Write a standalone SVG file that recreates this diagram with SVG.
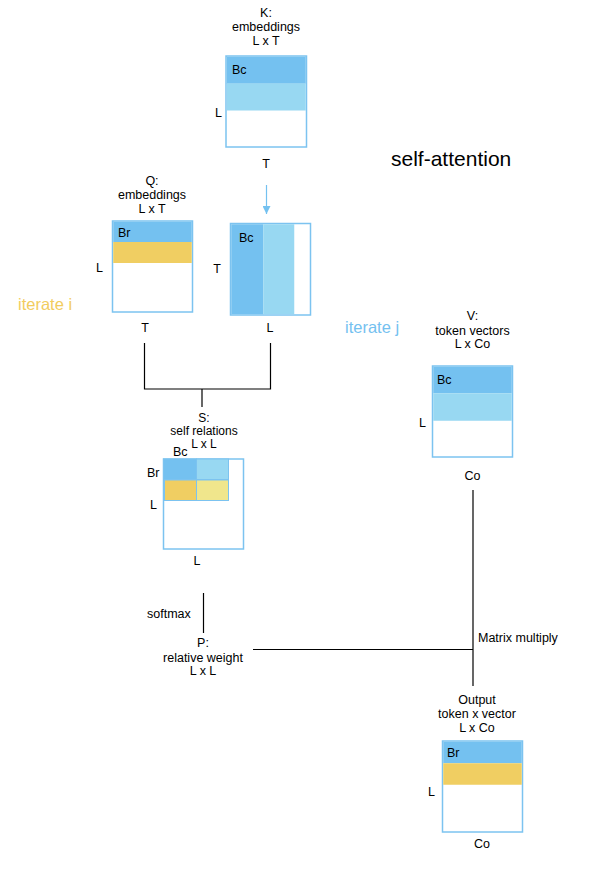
<svg xmlns="http://www.w3.org/2000/svg" width="592" height="882" viewBox="0 0 592 882">
<style>
text{font-family:"Liberation Sans",Arial,sans-serif;font-size:12.5px;fill:#000}
.c{text-anchor:middle}
.sm{font-size:12px}
.box{fill:#fff;stroke:#7cc3f0;stroke-width:1.5}
.dk{fill:#74c1f0}
.lt{fill:#98d8f2}
.yl{fill:#f0ce62}
.ly{fill:#f0e68c}
.tile{stroke:#7cc3f0;stroke-width:1}
.ln{fill:none;stroke:#000;stroke-width:1.2}
.title{font-size:21px}
.iti{font-size:16.5px;fill:#f2cc5e}
.itj{font-size:16.5px;fill:#74c1f0}
</style>
<defs>
<marker id="ah" markerWidth="8" markerHeight="8" refX="8" refY="4" orient="auto" markerUnits="userSpaceOnUse" viewBox="0 0 8 8">
<path d="M0,0 L8,4 L0,8 Z" fill="#74c1f0"/>
</marker>
</defs>
<text x="391" y="166" class="title">self-attention</text>
<text x="18" y="310" class="iti">iterate i</text>
<text x="345" y="333" class="itj">iterate j</text>

<g id="K">
<text x="266" y="17" class="c">K:</text>
<text x="266" y="31" class="c">embeddings</text>
<text x="266" y="45" class="c">L x T</text>
<rect x="226" y="56" width="80.5" height="91" class="box"/>
<rect x="226.75" y="56.75" width="79" height="27" class="dk"/>
<rect x="226.75" y="83.5" width="79" height="27" class="lt"/>
<text x="232" y="74">Bc</text>
<text x="215" y="117">L</text>
<text x="266" y="168" class="c">T</text>
</g>

<g id="Q">
<text x="152" y="185" class="c">Q:</text>
<text x="152" y="199" class="c">embeddings</text>
<text x="152" y="213" class="c">L x T</text>
<rect x="112.5" y="221" width="80" height="91" class="box"/>
<rect x="113.25" y="221.75" width="78.5" height="20.5" class="dk"/>
<rect x="113.25" y="242" width="78.5" height="21" class="yl"/>
<text x="118" y="237">Br</text>
<text x="96" y="272">L</text>
<text x="145" y="332" class="c">T</text>
</g>

<g id="KT">
<rect x="230.5" y="223.5" width="80" height="91.5" class="box"/>
<rect x="231.25" y="224.25" width="32" height="90" class="dk"/>
<rect x="263.25" y="224.25" width="31" height="90" class="lt"/>
<text x="239" y="242">Bc</text>
<text x="217" y="273" class="c">T</text>
<text x="270" y="332" class="c">L</text>
</g>

<g id="S">
<text x="204" y="421.5" class="c sm">S:</text>
<text x="204" y="435" class="c sm">self relations</text>
<text x="204" y="448" class="c sm">L x L</text>
<rect x="163.5" y="459" width="80" height="90" class="box"/>
<rect x="163.5" y="459" width="33" height="20.5" class="dk tile"/>
<rect x="196.5" y="459" width="32" height="20.5" class="lt tile"/>
<rect x="164.5" y="480" width="32" height="20.5" class="yl tile"/>
<rect x="196.5" y="480" width="32" height="20.5" class="ly tile"/>
<text x="173" y="456">Bc</text>
<text x="147" y="477">Br</text>
<text x="150" y="509">L</text>
<text x="197" y="565" class="c">L</text>
</g>

<g id="V">
<text x="472.5" y="320" class="c">V:</text>
<text x="472.5" y="335" class="c">token vectors</text>
<text x="472.5" y="348" class="c">L x Co</text>
<rect x="432.5" y="366" width="80" height="91" class="box"/>
<rect x="433.25" y="366.75" width="78.5" height="26.5" class="dk"/>
<rect x="433.25" y="393.25" width="78.5" height="27.5" class="lt"/>
<text x="437" y="384">Bc</text>
<text x="419" y="427">L</text>
<text x="472.5" y="480" class="c">Co</text>
</g>

<g id="P">
<text x="147" y="618">softmax</text>
<text x="203" y="647" class="c">P:</text>
<text x="203" y="662" class="c">relative weight</text>
<text x="203" y="675" class="c">L x L</text>
</g>

<g id="Output">
<text x="477" y="704" class="c">Output</text>
<text x="477" y="718" class="c">token x vector</text>
<text x="477" y="732" class="c">L x Co</text>
<rect x="442.5" y="741" width="80" height="91" class="box"/>
<rect x="443.25" y="741.75" width="78.5" height="21.5" class="dk"/>
<rect x="443.25" y="763.25" width="78.5" height="21.5" class="yl"/>
<text x="447" y="757">Br</text>
<text x="428" y="796">L</text>
<text x="482" y="848" class="c">Co</text>
</g>

<g id="connectors">
<line x1="266.5" y1="185" x2="266.5" y2="214" stroke="#74c1f0" stroke-width="1.2" marker-end="url(#ah)"/>
<polyline points="144.5,343 144.5,389 270.5,389 270.5,343" class="ln"/>
<line x1="202" y1="389" x2="202" y2="407" class="ln"/>
<line x1="203.5" y1="593" x2="203.5" y2="633" class="ln"/>
<line x1="473" y1="490" x2="473" y2="686" class="ln"/>
<line x1="253" y1="649.5" x2="473" y2="649.5" class="ln"/>
<text x="478" y="642">Matrix multiply</text>
</g>
</svg>
